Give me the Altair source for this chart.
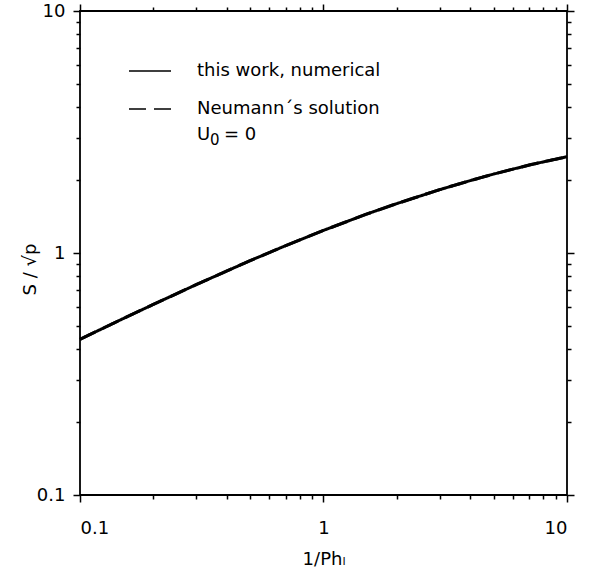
import altair as alt
import pandas as pd

# 1/Ph_l values and S/sqrt(p)
x_vals = [0.1, 0.15, 0.2, 0.3, 0.5, 0.7, 1.0, 1.5, 2.0, 3.0, 4.0, 5.0, 7.0, 10.0]
y_numerical = [0.44, 0.535, 0.613, 0.74, 0.93, 1.073, 1.24, 1.447, 1.60, 1.827, 1.99, 2.12, 2.31, 2.50]
y_neumann = [0.44, 0.535, 0.613, 0.74, 0.93, 1.073, 1.24, 1.447, 1.60, 1.827, 1.99, 2.12, 2.31, 2.50]
series_names = ["this work, numerical", "Neumann´s solution"]
note_parts = ["U", "0", "= 0"]
major_ticks = [0.1, 1, 10]
minor_ticks = [0.2, 0.3, 0.4, 0.5, 0.6, 0.7, 0.8, 0.9, 2, 3, 4, 5, 6, 7, 8, 9]

df = pd.concat([
    pd.DataFrame({"x": x_vals, "y": y_numerical, "series": series_names[0]}),
    pd.DataFrame({"x": x_vals, "y": y_neumann, "series": series_names[1]}),
])

FONT = "DejaVu Sans"
FS = 18
xs = alt.Scale(type="log", domain=[0.1, 10], nice=False)
ys = alt.Scale(type="log", domain=[0.1, 10], nice=False)


def ax(orient, values, size, labels=False, title=None, **kw):
    return alt.Axis(orient=orient, values=values, tickSize=size, tickWidth=1.5,
                    tickColor="black", labels=labels, domain=False, grid=False,
                    title=title, labelFont=FONT, labelFontSize=FS, labelColor="black",
                    titleFont=FONT, titleFontSize=FS, titleColor="black",
                    titleFontWeight="normal", format="~g", **kw)


main = alt.Chart(df).mark_line(color="black", strokeWidth=3).encode(
    x=alt.X("x:Q", scale=xs,
            axis=ax("bottom", major_ticks, 7, labels=True, title="1/Phₗ",
                    labelPadding=17, titlePadding=13)),
    y=alt.Y("y:Q", scale=ys,
            axis=ax("left", major_ticks, 7, labels=True, title="S / √p",
                    labelPadding=8, titleX=-50, titleY=258, titleAngle=270,
                    titleAlign="center", titleBaseline="middle")),
    strokeDash=alt.StrokeDash(
        "series:N",
        scale=alt.Scale(domain=series_names, range=[[1, 0], [17, 8]]),
        legend=alt.Legend(title=None, orient="none", legendX=48, legendY=38,
                          symbolType="stroke", symbolSize=1764, symbolStrokeWidth=1.6,
                          symbolStrokeColor="black", labelFont=FONT, labelFontSize=FS,
                          labelColor="black", labelOffset=25, rowPadding=7, padding=0,
                          labelLimit=400),
    ),
    order=alt.Order("series:N"),
)

minor_bl = alt.Chart(df).mark_line(opacity=0).encode(
    x=alt.X("x:Q", scale=xs, axis=ax("bottom", minor_ticks, 4)),
    y=alt.Y("y:Q", scale=ys, axis=ax("left", minor_ticks, 4)),
)
major_tr = alt.Chart(df).mark_line(opacity=0).encode(
    x=alt.X("x:Q", scale=xs, axis=ax("top", major_ticks, 7)),
    y=alt.Y("y:Q", scale=ys, axis=ax("right", major_ticks, 7)),
)
minor_tr = alt.Chart(df).mark_line(opacity=0).encode(
    x=alt.X("x:Q", scale=xs, axis=ax("top", minor_ticks, 4)),
    y=alt.Y("y:Q", scale=ys, axis=ax("right", minor_ticks, 4)),
)

note_df = pd.DataFrame({"label": [note_parts[0]]})
sub_df = pd.DataFrame({"label": [note_parts[1]]})
rest_df = pd.DataFrame({"label": [note_parts[2]]})
note_u = alt.Chart(note_df).mark_text(
    font=FONT, fontSize=FS, align="left", baseline="middle", color="black"
).encode(x=alt.value(117), y=alt.value(124), text="label:N")
note_sub = alt.Chart(sub_df).mark_text(
    font=FONT, fontSize=15, align="left", baseline="middle", color="black"
).encode(x=alt.value(130), y=alt.value(129), text="label:N")
note_rest = alt.Chart(rest_df).mark_text(
    font=FONT, fontSize=FS, align="left", baseline="middle", color="black"
).encode(x=alt.value(144), y=alt.value(124), text="label:N")

chart = alt.layer(main, minor_bl, major_tr, minor_tr, note_u, note_sub, note_rest).resolve_axis(
    x="independent", y="independent"
).properties(
    width=487, height=484,
    padding={"left": 80, "top": 11, "right": 26, "bottom": 79},
    autosize=alt.AutoSizeParams(type="none"),
).configure(background="white").configure_view(stroke="black", strokeWidth=1.8)

chart.save("out.html", embed_options={"renderer": "svg", "actions": False})
